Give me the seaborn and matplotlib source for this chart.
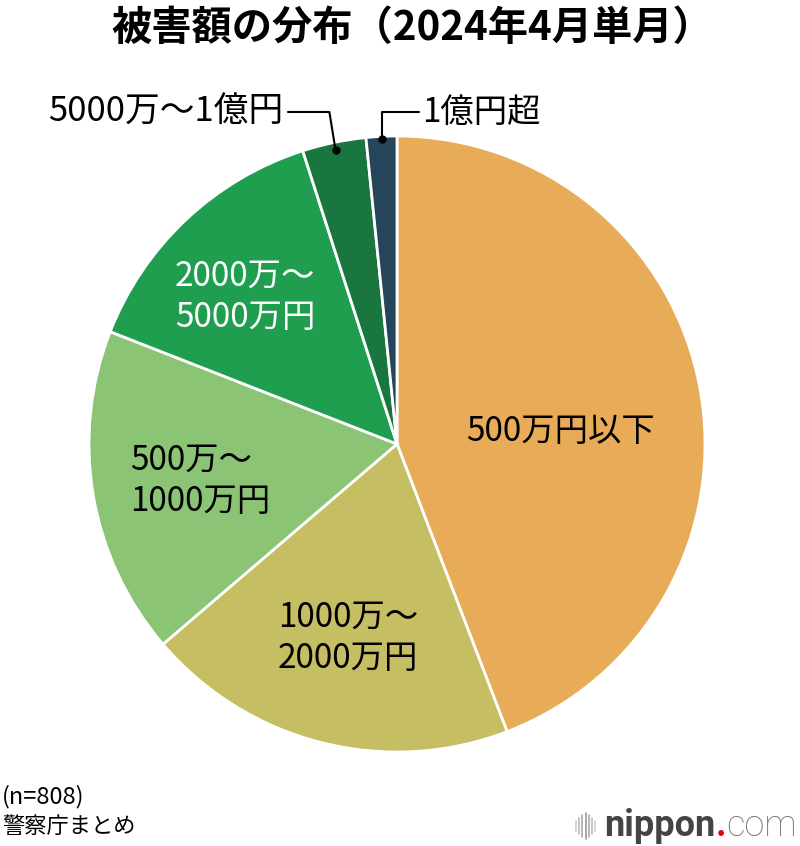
import numpy as np
import pandas as pd
import seaborn as sns
import matplotlib.pyplot as plt
from matplotlib.lines import Line2D

sns.set_style('white')
plt.rcParams['font.family'] = ['Noto Sans CJK JP', 'DejaVu Sans']
plt.rcParams['text.color'] = 'black'

# data (n=808)
categories = ['500万円以下', '1000万〜2000万円', '500万〜1000万円',
              '2000万〜5000万円', '5000万〜1億円', '1億円超']
counts = [357, 158, 139, 114, 27, 13]
colors = ['#E8AC59', '#C6BE62', '#8BC474', '#1F9E50', '#1A763F', '#25465A']

df = pd.DataFrame({'cat': categories, 'n': counts, 'color': colors})

fig = plt.figure(figsize=(8, 8.46), dpi=100)
W, H = 800, 846
cx, cy, r = 397, 444, 308
ax = fig.add_axes([(cx - r) / W, (H - cy - r) / H, 2 * r / W, 2 * r / H])

wedges, _ = ax.pie(df['n'], colors=df['color'], startangle=90, counterclock=False,
                   radius=1, wedgeprops=dict(edgecolor='white', linewidth=2))
ax.set_xlim(-1, 1)
ax.set_ylim(-1, 1)
ax.axis('off')

fs = 24
ls = 1.25
# labels inside the pie
ax.text(0.532, 0.039, '500万円以下', ha='center', va='center', fontsize=fs)
ax.text(-0.386, -0.63, '1000万〜\n2000万円', ha='left', va='center', fontsize=fs, linespacing=ls)
ax.text(-0.867, -0.12, '500万〜\n1000万円', ha='left', va='center', fontsize=fs, linespacing=ls)
ax.text(-0.721, 0.477, '2000万〜\n5000万円', ha='left', va='center', fontsize=fs,
        linespacing=ls, color='white')

# leader lines for the small slices
def mid_point(w, rr):
    a = np.deg2rad((w.theta1 + w.theta2) / 2)
    return rr * np.cos(a), rr * np.sin(a)

x5, y5 = mid_point(wedges[4], 0.975)
ax.plot([x5, x5 - 0.02, -0.354], [y5, 1.078, 1.078], color='black', lw=1.5, clip_on=False)
ax.plot([x5], [y5], 'o', color='black', ms=5, clip_on=False)
ax.text(-0.37, 1.078, '5000万〜1億円', ha='right', va='center', fontsize=25)

x6, y6 = mid_point(wedges[5], 0.99)
ax.plot([x6, x6, 0.07], [y6, 1.078, 1.078], color='black', lw=1.5, clip_on=False)
ax.plot([x6], [y6], 'o', color='black', ms=5, clip_on=False)
ax.text(0.081, 1.078, '1億円超', ha='left', va='center', fontsize=fs)

# title
fig.text(412 / W, 1 - 28 / H, '被害額の分布（2024年4月単月）', ha='center', va='center',
         fontsize=29, fontweight='bold')

# source notes
fig.text(2 / W, 1 - 797 / H, '(n=808)', ha='left', va='center', fontsize=17)
fig.text(2 / W, 1 - 826 / H, '警察庁まとめ', ha='left', va='center', fontsize=16)

# nippon.com mark
for i, (h, c) in enumerate(zip([10, 16, 22, 26, 22, 16, 10],
                               ['#cccccc', '#bbbbbb', '#aaaaaa', '#999999', '#aaaaaa', '#bbbbbb', '#cccccc'])):
    x = (576 + i * 3.2) / W
    fig.add_artist(Line2D([x, x], [1 - (826 + h / 2) / H, 1 - (826 - h / 2) / H],
                          color=c, lw=1.2))
t = fig.text(604 / W, 1 - 826 / H, 'nippon', ha='left', va='center', fontsize=26,
             fontweight='bold', color='#444444', family=['Roboto', 'DejaVu Sans'])
fig.canvas.draw()
bb = t.get_window_extent()
t2 = fig.text(bb.x1 / W, 1 - 826 / H, '.', ha='left', va='center', fontsize=26,
              fontweight='bold', color='#e60012', family=['Roboto', 'DejaVu Sans'])
bb2 = t2.get_window_extent()
fig.text(bb2.x1 / W, 1 - 826 / H, 'com', ha='left', va='center', fontsize=26,
         color='#777777', family=['Roboto', 'DejaVu Sans'], fontweight='light')

fig.savefig('out.png', dpi=100)
